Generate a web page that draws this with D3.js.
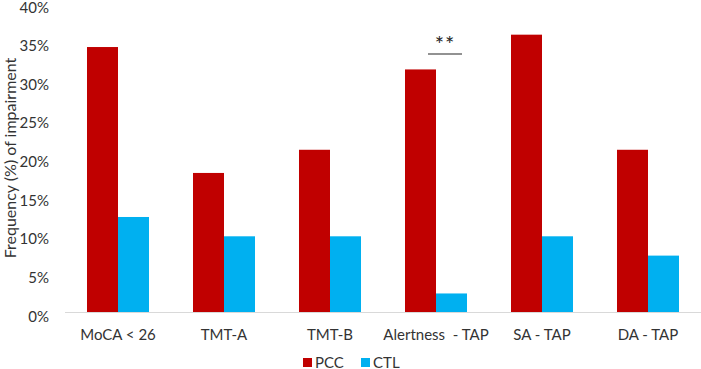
<!DOCTYPE html>
<html><head><meta charset="utf-8">
<script src="https://cdn.jsdelivr.net/npm/d3@7"></script>
<style>body{margin:0;background:#fff}svg{display:block}text{font-family:Lato,"Open Sans",sans-serif;fill:#333}</style>
</head><body>
<script>
const categories = ["MoCA < 26","TMT-A","TMT-B","Alertness  - TAP","SA - TAP","DA - TAP"];
const seriesNames = ["PCC","CTL"];
const pcc = [0.343,0.180,0.210,0.314,0.359,0.210];
const ctl = [0.123,0.098,0.098,0.024,0.098,0.073];
const colors = ["#C00000","#00B0F0"];
const yTicks = [0,0.05,0.10,0.15,0.20,0.25,0.30,0.35,0.40];

const W=701,H=369;
const svg=d3.select("body").append("svg").attr("width",W).attr("height",H);
const x=d3.scaleBand().domain(categories).range([65,701]).paddingInner(0.415).paddingOuter(0.2075);
const xs=d3.scaleBand().domain(seriesNames).range([0,x.bandwidth()]);
const y=d3.scaleLinear().domain([0,0.4]).range([312,3]);

svg.append("line").attr("x1",65).attr("x2",701).attr("y1",y(0)+0.5).attr("y2",y(0)+0.5).attr("stroke","#d9d9d9").attr("stroke-width",1);

const data=categories.map((c,i)=>({c,vals:[pcc[i],ctl[i]]}));
const g=svg.append("g").selectAll("g").data(data).join("g").attr("transform",d=>`translate(${x(d.c)},0)`);
g.selectAll("rect").data(d=>d.vals.map((v,j)=>({v,s:seriesNames[j],j}))).join("rect")
 .attr("x",d=>xs(d.s)).attr("width",xs.bandwidth()).attr("y",d=>y(d.v)).attr("height",d=>y(0)-y(d.v)).attr("fill",d=>colors[d.j]);

const ya=svg.append("g").attr("transform","translate(49,0)").call(d3.axisLeft(y).tickValues(yTicks).tickFormat(d3.format(".0%")).tickSize(0).tickPadding(0));
ya.select(".domain").remove();
ya.selectAll("text").attr("dy","0.6em").style("font-size","15px").style("fill","#333").style("font-family","Lato,'Open Sans',sans-serif");

const xa=svg.append("g").attr("transform",`translate(0,${y(0)})`).call(d3.axisBottom(x).tickSize(0).tickPadding(0));
xa.select(".domain").remove();
xa.selectAll("text").attr("y",28).attr("dy",0).style("white-space","pre").style("font-size","15px").style("fill","#333").style("font-family","Lato,'Open Sans',sans-serif");

svg.append("text").attr("transform","translate(16,158) rotate(-90)").attr("text-anchor","middle").style("font-size","16px").text("Frequency (%) of impairment");

const ai=3; const cx=x(categories[ai])+x.bandwidth()/2+9;
svg.append("line").attr("x1",cx-17).attr("x2",cx+17).attr("y1",54).attr("y2",54).attr("stroke","#262626").attr("stroke-width",1.2);
svg.append("text").attr("x",cx).attr("y",52).attr("text-anchor","middle").style("font-size","22px").style("fill","#262626").style("letter-spacing","1px").text("**");

const leg=svg.append("g").selectAll("g").data(seriesNames).join("g").attr("transform",(d,i)=>`translate(${303+i*58},358)`);
leg.append("rect").attr("width",9).attr("height",9).attr("fill",(d,i)=>colors[i]);
leg.append("text").attr("x",12).attr("y",9.5).style("font-size","15px").text(d=>d);
</script>
</body></html>
